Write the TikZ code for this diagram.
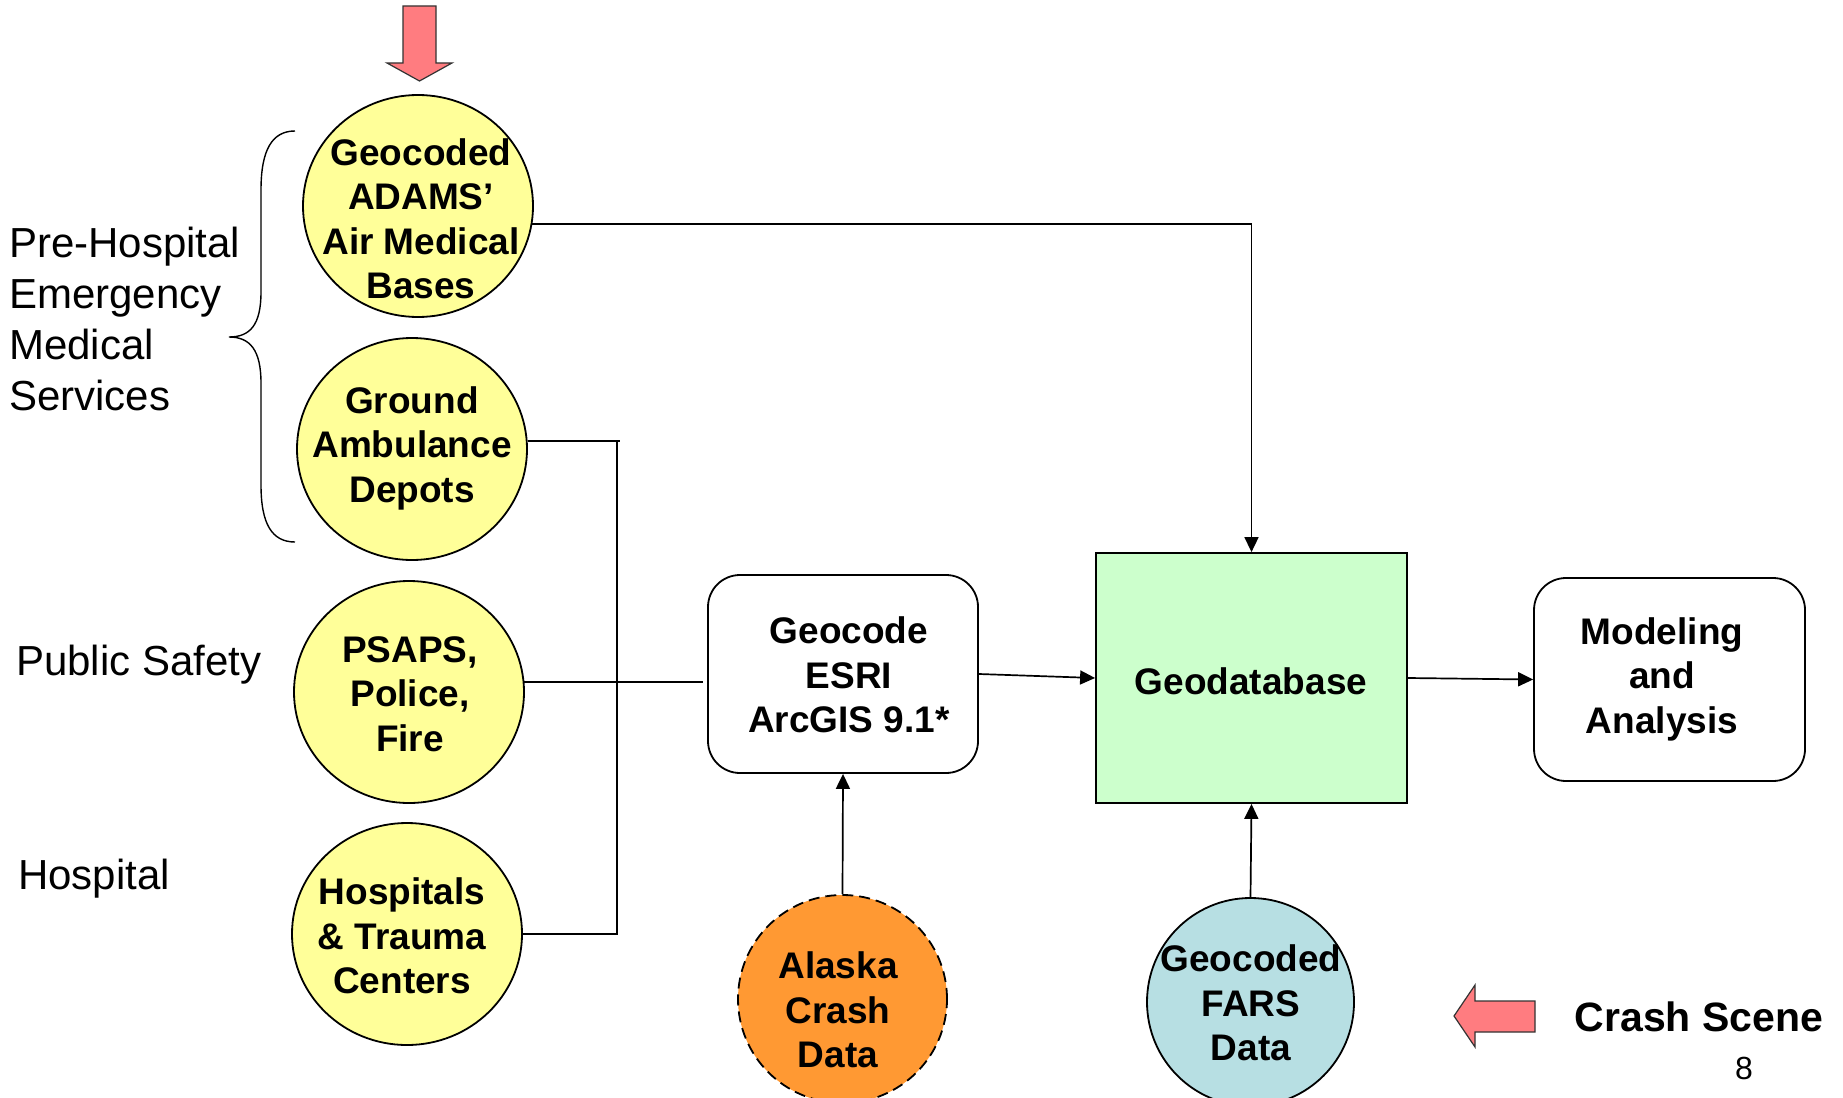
\documentclass[tikz,border=0pt]{standalone}
\usepackage{fontspec}
\setmainfont{Liberation Sans}
\usetikzlibrary{shapes.geometric,arrows.meta}

\definecolor{paleyellow}{HTML}{FFFF99}
\definecolor{palegreen}{HTML}{CCFFCC}
\definecolor{crashorange}{HTML}{FF9933}
\definecolor{paleblue}{HTML}{B7DFE3}
\definecolor{blockred}{HTML}{FF7C80}

\newcommand\nodefont{\fontsize{37}{44.5}\selectfont\bfseries}
\newcommand\sidefont{\fontsize{42}{51.3}\selectfont}

\tikzset{
  wire/.style={line width=1.7pt, draw=black},
  flow/.style={wire, -{Triangle[length=15pt,width=14pt]}},
  disc/.style={ellipse, draw=black, line width=1.8pt, inner sep=0pt},
  source/.style={disc, fill=paleyellow, minimum width=230pt, minimum height=222pt},
  ctext/.style={align=center, font=\nodefont, inner sep=0pt},
  roundbox/.style={rectangle, rounded corners=32pt, draw=black, line width=1.8pt,
    fill=white},
  sidelabel/.style={font=\sidefont, inner sep=0pt, align=left},
  blockarrow/.style={fill=blockred, draw=black!80, line width=1.2pt, line join=miter}
}

\begin{document}
\begin{tikzpicture}[x=1pt, y=-1pt]
\useasboundingbox (0,0) rectangle (1843,1097);

% ---- source layers (yellow) ----
\node[source] (adams) at (418,206) {};
\node[ctext] (adamsT) at (421,219) {Geocoded\\ADAMS’\\Air Medical\\Bases};
\node[source] (ground) at (412,449) {};
\node[ctext] (groundT) at (412,448) {Ground\\Ambulance\\Depots};
\node[source] (psaps) at (409,692) {};
\node[ctext] (psapsT) at (410,694) {PSAPS,\\Police,\\Fire};
\node[source] (hosp) at (407,934) {};
\node[ctext] (hospT) at (402,936) {Hospitals\\\& Trauma\\Centers};

% ---- processing chain ----
\node[roundbox, minimum width=270pt, minimum height=198pt] (geocode) at (843,674) {};
\node[ctext] (geocodeT) at (849,675) {Geocode\\ESRI\\ArcGIS 9.1*};
\node[rectangle, draw=black, line width=1.8pt, fill=palegreen,
  minimum width=311pt, minimum height=250pt] (geodb) at (1251.5,678) {};
\node[ctext] (geodbT) at (1251,681) {Geodatabase};
\node[roundbox, minimum width=271pt, minimum height=203pt] (model) at (1669.5,679.5) {};
\node[ctext] (modelT) at (1662,679) {Modeling\\and\\Analysis};

% ---- crash data inputs ----
\node[disc, fill=crashorange, dash pattern=on 11pt off 6pt,
  minimum width=209pt, minimum height=208pt] (alaska) at (842.5,999) {};
\node[ctext] (alaskaT) at (838,1010) {Alaska\\Crash\\Data};
\node[disc, fill=paleblue, minimum width=207pt, minimum height=208pt] (fars)
  at (1250.5,1002) {};
\node[ctext] (farsT) at (1251,1003) {Geocoded\\FARS\\Data};

% ---- category labels ----
\node[sidelabel, anchor=west] (prehosp) at (9,319)
  {Pre-Hospital\\Emergency\\Medical\\Services};
\node[sidelabel, anchor=base west] (pubsafe) at (16,675) {Public Safety};
\node[sidelabel, anchor=base west] (hosplab) at (18,889) {Hospital};

% brace grouping the pre-hospital services
\draw[line width=1.4pt]
  (295,131) .. controls (272,131) and (261,150) .. (261,190)
  -- (261,292)
  .. controls (261,325) and (250,337) .. (229,337)
  .. controls (250,337) and (261,350) .. (261,383)
  -- (261,485)
  .. controls (261,524) and (272,542) .. (295,542);

% ---- connectors ----
\coordinate (busX) at (617,0);
\coordinate (tickX) at (620,0);
\coordinate (psapsEnd) at (703,0);

\draw[flow] (adams.-9) -| (geodb.north);
\draw[wire] (ground.4) -- (tickX |- ground.4);
\draw[wire] (busX |- ground.4) -- (busX |- hosp.east) -- (hosp.east);
\draw[wire] (psaps.5) -- (psapsEnd |- psaps.5);
\draw[flow] (geocode.east) -- (geodb.west);
\draw[flow] (geodb.east) -- (model.west);
\draw[flow] (alaska.north) -- (geocode.south);
\draw[flow] (fars.north) -- (geodb.south);

% ---- block arrows ----
\draw[blockarrow] (403,6) -- (436,6) -- (436,63) -- (452,63) -- (419.5,81)
  -- (387,63) -- (403,63) -- cycle;
\draw[blockarrow] (1535,1001) -- (1475,1001) -- (1475,985) -- (1454,1016)
  -- (1475,1047) -- (1475,1032) -- (1535,1032) -- cycle;

\node[font=\fontsize{41}{48}\selectfont\bfseries, anchor=base, inner sep=0pt]
  (crash) at (1699,1031) {Crash Scene};
\node[font=\fontsize{32}{38}\selectfont, anchor=base, inner sep=0pt]
  (pagenum) at (1744,1079) {8};
\end{tikzpicture}
\end{document}
